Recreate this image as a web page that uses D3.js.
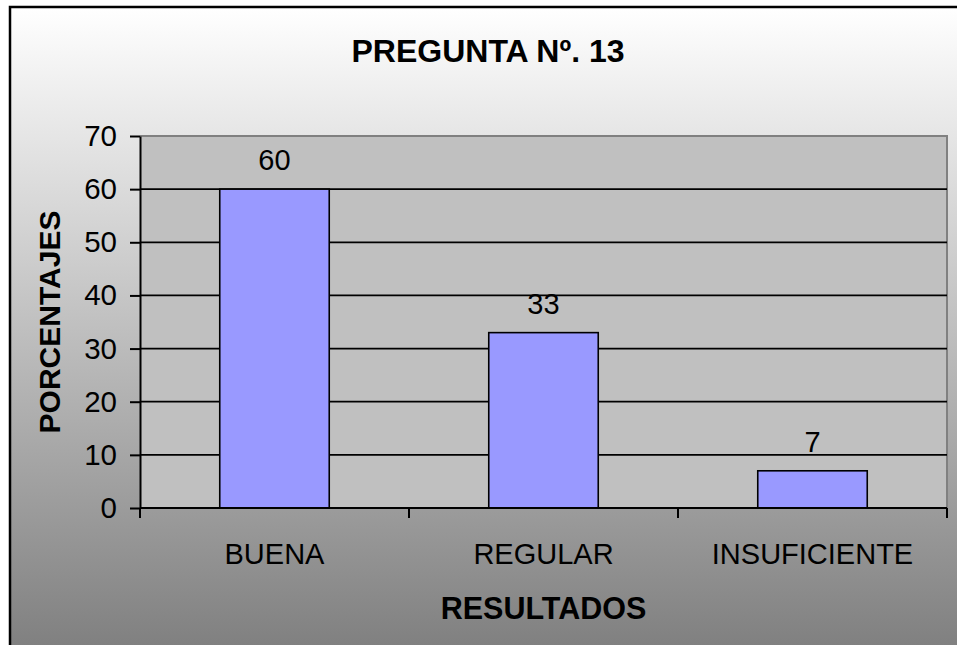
<!DOCTYPE html>
<html>
<head>
<meta charset="utf-8">
<script src="https://cdn.jsdelivr.net/npm/d3@7"></script>
<style>
  html, body { margin: 0; padding: 0; background: #fff; overflow: hidden; }
  svg { display: block; font-family: "Liberation Sans", Arial, sans-serif; }
</style>
</head>
<body>
<svg width="957" height="645"></svg>
<script>
// data
const categories = ["BUENA", "REGULAR", "INSUFICIENTE"];
const values = [60, 33, 7];
const yTicks = [0, 10, 20, 30, 40, 50, 60, 70];

const title = "PREGUNTA Nº. 13";
const xTitle = "RESULTADOS";
const yTitle = "PORCENTAJES";

const svg = d3.select("svg");

// background gradient of the chart area
const defs = svg.append("defs");
const grad = defs.append("linearGradient")
  .attr("id", "bg").attr("x1", 0).attr("y1", 0).attr("x2", 0).attr("y2", 1);
grad.append("stop").attr("offset", "0%").attr("stop-color", "#ffffff");
grad.append("stop").attr("offset", "100%").attr("stop-color", "#747474");

svg.append("rect")
  .attr("x", 10).attr("y", 7)
  .attr("width", 1000).attr("height", 700)
  .attr("fill", "url(#bg)")
  .attr("stroke", "#000").attr("stroke-width", 2.5);

const plot = {left: 140, top: 136, right: 947, bottom: 508};

const x = d3.scaleBand()
  .domain(categories)
  .range([plot.left, plot.right])
  .padding(0);

const y = d3.scaleLinear()
  .domain([0, 70])
  .range([plot.bottom, plot.top]);

// plot area
svg.append("rect")
  .attr("x", plot.left).attr("y", plot.top)
  .attr("width", plot.right - plot.left)
  .attr("height", plot.bottom - plot.top)
  .attr("fill", "#c0c0c0");

// gray border top / right
svg.append("path")
  .attr("d", `M${plot.left},${plot.top}H${plot.right}V${plot.bottom}`)
  .attr("fill", "none")
  .attr("stroke", "#808080").attr("stroke-width", 2);

// gridlines
svg.append("g")
  .selectAll("line")
  .data(yTicks.filter(d => d > 0 && d < 70))
  .join("line")
  .attr("x1", plot.left).attr("x2", plot.right)
  .attr("y1", d => y(d)).attr("y2", d => y(d))
  .attr("stroke", "#000").attr("stroke-width", 1.8);

// bars
const barW = x.bandwidth() * 0.407;
svg.append("g")
  .selectAll("rect")
  .data(values)
  .join("rect")
  .attr("x", (d, i) => x(categories[i]) + (x.bandwidth() - barW) / 2)
  .attr("y", d => y(d))
  .attr("width", barW)
  .attr("height", d => y(0) - y(d))
  .attr("fill", "#9999ff")
  .attr("stroke", "#000").attr("stroke-width", 1.6);

// value labels
svg.append("g")
  .selectAll("text")
  .data(values)
  .join("text")
  .attr("x", (d, i) => x(categories[i]) + x.bandwidth() / 2)
  .attr("y", d => y(d) - 19)
  .attr("text-anchor", "middle")
  .attr("font-size", 29)
  .attr("fill", "#000")
  .text(d => d);

// y axis
const yAxis = svg.append("g")
  .attr("transform", `translate(${plot.left},0)`)
  .call(d3.axisLeft(y).tickValues(yTicks).tickSize(10).tickPadding(13).tickSizeOuter(0));
yAxis.select(".domain").attr("stroke", "#000").attr("stroke-width", 2);
yAxis.selectAll(".tick line").attr("stroke", "#000").attr("stroke-width", 2);
yAxis.selectAll(".tick text")
  .attr("font-size", 29.5)
  .attr("font-family", "Liberation Sans, Arial, sans-serif")
  .attr("fill", "#000");

// x axis line and ticks at band edges
svg.append("line")
  .attr("x1", plot.left).attr("x2", plot.right)
  .attr("y1", plot.bottom).attr("y2", plot.bottom)
  .attr("stroke", "#000").attr("stroke-width", 2);

const edges = categories.map(c => x(c)).concat([plot.right]);
svg.append("g")
  .selectAll("line")
  .data(edges)
  .join("line")
  .attr("x1", d => d).attr("x2", d => d)
  .attr("y1", plot.bottom).attr("y2", plot.bottom + 10)
  .attr("stroke", "#000").attr("stroke-width", 2);

svg.append("g")
  .selectAll("text")
  .data(categories)
  .join("text")
  .attr("x", d => x(d) + x.bandwidth() / 2)
  .attr("y", 564)
  .attr("text-anchor", "middle")
  .attr("font-size", 29)
  .attr("fill", "#000")
  .text(d => d);

// titles
svg.append("text")
  .attr("x", 488).attr("y", 62)
  .attr("text-anchor", "middle")
  .attr("font-size", 32).attr("font-weight", "bold")
  .text(title);

svg.append("text")
  .attr("x", (plot.left + plot.right) / 2).attr("y", 619)
  .attr("text-anchor", "middle")
  .attr("font-size", 30.5).attr("font-weight", "bold")
  .text(xTitle);

svg.append("text")
  .attr("transform", `translate(60,${(plot.top + plot.bottom) / 2}) rotate(-90)`)
  .attr("text-anchor", "middle")
  .attr("font-size", 30).attr("font-weight", "bold")
  .text(yTitle);
</script>
</body>
</html>
